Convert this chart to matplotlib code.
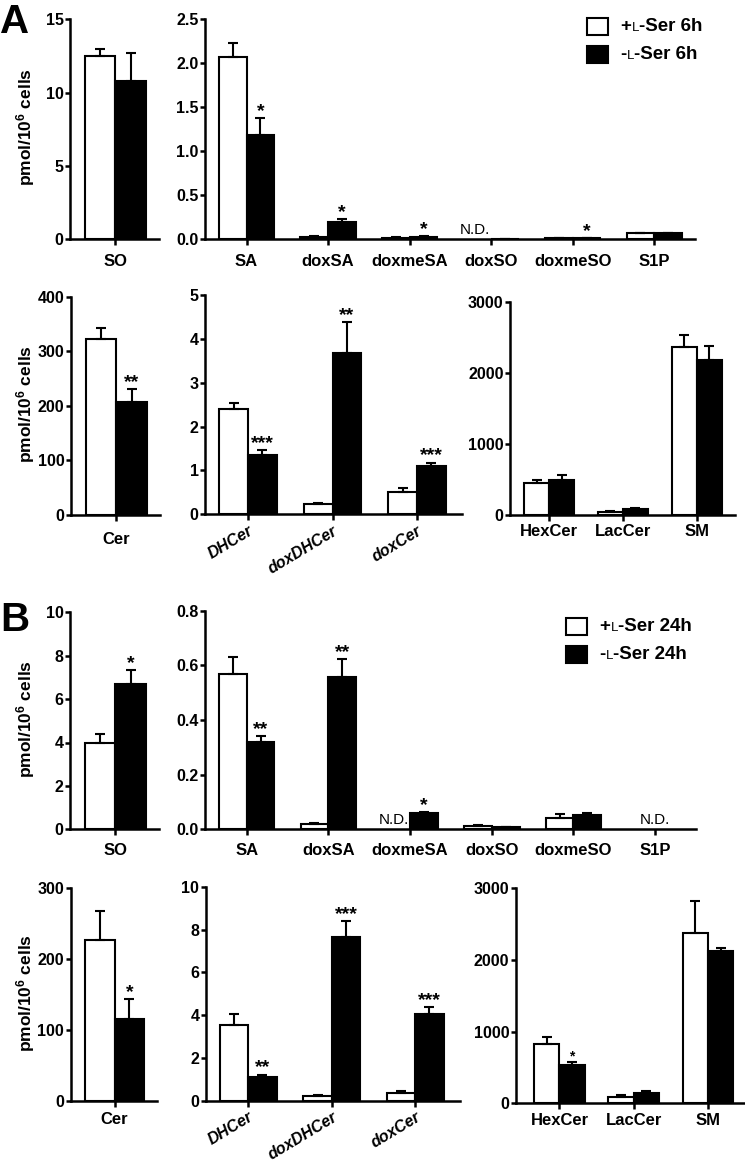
"""Sphingolipid levels after 6 h and 24 h with or without L-serine (Prism-style bar panels)."""

import numpy as np
import matplotlib
matplotlib.use("Agg")
import matplotlib.pyplot as plt
from matplotlib.patches import Rectangle
from matplotlib.ticker import FormatStrFormatter
from matplotlib.offsetbox import TextArea, HPacker, VPacker, DrawingArea, AnchoredOffsetbox

plt.rcParams["font.family"] = ["Liberation Sans", "DejaVu Sans"]
plt.rcParams["font.weight"] = "bold"
plt.rcParams["mathtext.fontset"] = "custom"
plt.rcParams["mathtext.rm"] = "Liberation Sans"
plt.rcParams["mathtext.bf"] = "Liberation Sans:bold"
plt.rcParams["mathtext.default"] = "bf"

ND = np.nan  # not detected

# ---- A: 6 h ----
a_so_cats = ["SO"]
a_so_plus = [12.5]
a_so_plus_err = [0.45]
a_so_minus = [10.8]
a_so_minus_err = [1.92]
a_so_stars = [""]

a_lcb_cats = ["SA", "doxSA", "doxmeSA", "doxSO", "doxmeSO", "S1P"]
a_lcb_plus = [2.07, 0.03, 0.02, ND, 0.01, 0.068]
a_lcb_plus_err = [0.16, 0.004, 0.003, ND, 0.003, 0.006]
a_lcb_minus = [1.18, 0.20, 0.03, 0.004, 0.015, 0.07]
a_lcb_minus_err = [0.20, 0.03, 0.005, 0.001, 0.003, 0.005]
a_lcb_stars = ["*", "*", "*", "", "*", ""]

a_cer_cats = ["Cer"]
a_cer_plus = [322.5]
a_cer_plus_err = [20]
a_cer_minus = [207]
a_cer_minus_err = [23]
a_cer_stars = ["**"]

a_dh_cats = ["DHCer", "doxDHCer", "doxCer"]
a_dh_plus = [2.39, 0.235, 0.515]
a_dh_plus_err = [0.14, 0.025, 0.075]
a_dh_minus = [1.345, 3.68, 1.10]
a_dh_minus_err = [0.125, 0.70, 0.08]
a_dh_stars = ["***", "**", "***"]

a_cx_cats = ["HexCer", "LacCer", "SM"]
a_cx_plus = [455, 47, 2365]
a_cx_plus_err = [39, 13, 170]
a_cx_minus = [494, 80, 2186]
a_cx_minus_err = [70, 20, 194]
a_cx_stars = ["", "", ""]

# ---- B: 24 h ----
b_so_cats = ["SO"]
b_so_plus = [3.99]
b_so_plus_err = [0.39]
b_so_minus = [6.70]
b_so_minus_err = [0.64]
b_so_stars = ["*"]

b_lcb_cats = ["SA", "doxSA", "doxmeSA", "doxSO", "doxmeSO", "S1P"]
b_lcb_plus = [0.567, 0.018, ND, 0.012, 0.040, ND]
b_lcb_plus_err = [0.063, 0.005, ND, 0.002, 0.017, ND]
b_lcb_minus = [0.318, 0.558, 0.0585, 0.008, 0.051, ND]
b_lcb_minus_err = [0.023, 0.064, 0.0055, 0.001, 0.009, ND]
b_lcb_stars = ["**", "**", "*", "", "", ""]

b_cer_cats = ["Cer"]
b_cer_plus = [227]
b_cer_plus_err = [41]
b_cer_minus = [115]
b_cer_minus_err = [28]
b_cer_stars = ["*"]

b_dh_cats = ["DHCer", "doxDHCer", "doxCer"]
b_dh_plus = [3.54, 0.23, 0.38]
b_dh_plus_err = [0.53, 0.06, 0.07]
b_dh_minus = [1.12, 7.66, 4.07]
b_dh_minus_err = [0.11, 0.72, 0.30]
b_dh_stars = ["**", "***", "***"]

b_cx_cats = ["HexCer", "LacCer", "SM"]
b_cx_plus = [830, 93, 2381]
b_cx_plus_err = [102, 23, 437]
b_cx_minus = [536, 149, 2121]
b_cx_minus_err = [37, 18, 51]
b_cx_stars = ["*", "", ""]

W, H = 745, 1163
fig = plt.figure(figsize=(W / 100, H / 100), dpi=100)
fig.patch.set_facecolor("white")


def add_ax(left, right, top, bottom):
    return fig.add_axes([left / W, 1 - bottom / H, (right - left) / W, (bottom - top) / H])


def panel(ax, cats, plus, plus_err, minus, minus_err, stars, ymax, ystep, fmt, xlim,
          label_pad, rotate=False, star_size=14):
    x = np.arange(len(cats))
    w = 0.34
    plus = np.asarray(plus, float)
    minus = np.asarray(minus, float)
    plus_err = np.asarray(plus_err, float)
    minus_err = np.asarray(minus_err, float)

    ok = np.isfinite(plus)
    ax.bar(x[ok] - w / 2, plus[ok], w, color="white", edgecolor="black", linewidth=1.5, zorder=2)
    ok = np.isfinite(minus)
    ax.bar(x[ok] + w / 2, minus[ok], w, color="black", edgecolor="black", linewidth=1.5, zorder=2)
    for xs, vals, errs in ((x - w / 2, plus, plus_err), (x + w / 2, minus, minus_err)):
        ax.errorbar(xs, vals, yerr=[np.zeros_like(errs), errs], fmt="none", ecolor="black",
                    elinewidth=1.5, capsize=3.6, capthick=1.5, zorder=3, clip_on=False)

    for i, s in enumerate(stars):
        if s:
            ax.annotate(s, (x[i] + w / 2, minus[i] + minus_err[i]), xytext=(0, 1.5),
                        textcoords="offset points", ha="center", va="baseline",
                        fontsize=star_size, fontweight="bold", annotation_clip=False)

    for i in range(len(cats)):
        nd = dict(xytext=(0, 4), textcoords="offset points", va="baseline",
                  fontsize=11, fontweight="normal", annotation_clip=False)
        if np.isnan(plus[i]) and np.isnan(minus[i]):
            ax.annotate("N.D.", (x[i], 0), ha="center", **nd)
        elif np.isnan(plus[i]):
            ax.annotate("N.D.", (x[i] - 0.01, 0), ha="right", **nd)

    for side in ("top", "right"):
        ax.spines[side].set_visible(False)
    for side in ("left", "bottom"):
        ax.spines[side].set_linewidth(1.8)
    ax.set_xlim(xlim)
    ax.set_ylim(0, ymax)
    ax.set_yticks(np.arange(0, ymax + ystep / 2, ystep))
    ax.yaxis.set_major_formatter(FormatStrFormatter(fmt))
    ax.tick_params(axis="y", direction="out", length=3.6, width=1.8, pad=1, labelsize=11.5)
    ax.tick_params(axis="x", direction="out", length=4.3, width=1.8, pad=label_pad, labelsize=12)
    ax.set_xticks(x)
    if rotate:
        ax.set_xticklabels(cats, rotation=31, ha="right", rotation_mode="anchor",
                           fontstyle="italic", fontsize=11.5)
    else:
        ax.set_xticklabels(cats)
    ax.set_facecolor("none")


def add_legend(left_px, top_px, hours):
    rows = []
    for fill, sign in (("white", "+"), ("black", "-")):
        box = DrawingArea(17, 14, 0, 0)
        box.add_artist(Rectangle((1, 1), 15, 12, facecolor=fill,
                                 edgecolor="black", linewidth=1.5))
        label = HPacker(children=[
            TextArea(sign, textprops=dict(fontsize=13.5, fontweight="bold")),
            TextArea("L", textprops=dict(fontsize=9.5, fontweight="normal")),
            TextArea("-Ser " + hours, textprops=dict(fontsize=13.5, fontweight="bold")),
        ], align="baseline", pad=0, sep=0)
        rows.append(HPacker(children=[box, label], align="center", pad=0, sep=8))
    pack = VPacker(children=rows, align="left", pad=0, sep=6)
    fig.add_artist(AnchoredOffsetbox(loc="upper left", child=pack, pad=0, borderpad=0,
                                     frameon=False, bbox_to_anchor=(left_px / W, 1 - top_px / H),
                                     bbox_transform=fig.transFigure))


ylab = r"pmol/10$^{6}$ cells"

# ---- panel A ----
ax = add_ax(70, 159, 19.3, 239.3)
panel(ax, a_so_cats, a_so_plus, a_so_plus_err, a_so_minus, a_so_minus_err, a_so_stars,
      15, 5, "%d", (-0.51, 0.49), 6.5)
ax = add_ax(205, 695, 19.3, 239.3)
panel(ax, a_lcb_cats, a_lcb_plus, a_lcb_plus_err, a_lcb_minus, a_lcb_minus_err, a_lcb_stars,
      2.5, 0.5, "%.1f", (-0.51, 5.5), 6.5)
add_legend(586, 17, "6h")

ax = add_ax(71, 160, 296.7, 515)
panel(ax, a_cer_cats, a_cer_plus, a_cer_plus_err, a_cer_minus, a_cer_minus_err, a_cer_stars,
      400, 100, "%d", (-0.51, 0.49), 8)
ax = add_ax(205, 461.7, 295, 514.3)
panel(ax, a_dh_cats, a_dh_plus, a_dh_plus_err, a_dh_minus, a_dh_minus_err, a_dh_stars,
      5, 1, "%d", (-0.51, 2.53), 2, rotate=True)
ax = add_ax(510, 735, 302.3, 515)
panel(ax, a_cx_cats, a_cx_plus, a_cx_plus_err, a_cx_minus, a_cx_minus_err, a_cx_stars,
      3000, 1000, "%d", (-0.53, 2.52), 2.5)

# ---- panel B ----
ax = add_ax(70, 159, 612.3, 829.3)
panel(ax, b_so_cats, b_so_plus, b_so_plus_err, b_so_minus, b_so_minus_err, b_so_stars,
      10, 2, "%d", (-0.51, 0.49), 5.3)
ax = add_ax(205, 696, 610.7, 829.3)
panel(ax, b_lcb_cats, b_lcb_plus, b_lcb_plus_err, b_lcb_minus, b_lcb_minus_err, b_lcb_stars,
      0.8, 0.2, "%.1f", (-0.51, 5.5), 5.3)
add_legend(565, 617, "24h")

ax = add_ax(70.5, 157, 888.3, 1100.7)
panel(ax, b_cer_cats, b_cer_plus, b_cer_plus_err, b_cer_minus, b_cer_minus_err, b_cer_stars,
      300, 100, "%d", (-0.51, 0.49), 4)
ax = add_ax(205.7, 459.5, 886.7, 1101)
panel(ax, b_dh_cats, b_dh_plus, b_dh_plus_err, b_dh_minus, b_dh_minus_err, b_dh_stars,
      10, 2, "%d", (-0.51, 2.53), 1.5, rotate=True)
ax = add_ax(515.7, 745, 888.3, 1103.3)
panel(ax, b_cx_cats, b_cx_plus, b_cx_plus_err, b_cx_minus, b_cx_minus_err, b_cx_stars,
      3000, 1000, "%d", (-0.59, 2.5), 2.5, star_size=10)

# y labels and panel letters
for yc in (127, 404, 719, 993):
    fig.text(26 / W, 1 - yc / H, ylab, rotation=90, ha="center", va="center", fontsize=12.5)
fig.text(0, 1 - 33 / H, "A", fontsize=29, ha="left", va="baseline")
fig.text(0, 1 - 631 / H, "B", fontsize=29, ha="left", va="baseline")

fig.savefig("out.png", dpi=100, facecolor="white")
